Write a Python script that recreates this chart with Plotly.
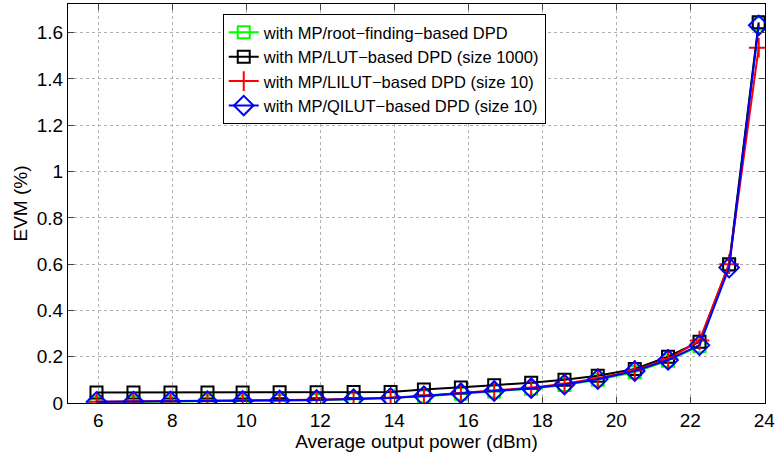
import plotly.graph_objects as go

power_dbm = [5.95, 6.95, 7.95, 8.95, 9.9, 10.9, 11.9, 12.9, 13.9, 14.8, 15.8, 16.7,
             17.7, 18.6, 19.5, 20.5, 21.4, 22.25, 23.05, 23.85]
evm_root = [0.003, 0.004, 0.005, 0.006, 0.007, 0.009, 0.012, 0.016, 0.021, 0.028, 0.040,
            0.050, 0.062, 0.078, 0.100, 0.133, 0.183, 0.245, 0.595, 1.640]
evm_lut = [0.045, 0.045, 0.045, 0.045, 0.045, 0.046, 0.046, 0.047, 0.048, 0.058, 0.067,
           0.077, 0.088, 0.100, 0.118, 0.147, 0.200, 0.265, 0.600, 1.645]
evm_lilut = [0.005, 0.006, 0.007, 0.008, 0.009, 0.011, 0.014, 0.018, 0.023, 0.031, 0.043,
             0.053, 0.066, 0.083, 0.107, 0.142, 0.190, 0.270, 0.600, 1.535]
evm_qilut = [0.005, 0.006, 0.007, 0.008, 0.009, 0.011, 0.013, 0.017, 0.022, 0.030, 0.042,
             0.052, 0.064, 0.080, 0.103, 0.138, 0.186, 0.250, 0.585, 1.632]

names = ["with MP/root\u2212finding\u2212based DPD",
         "with MP/LUT\u2212based DPD (size 1000)",
         "with MP/LILUT\u2212based DPD (size 10)",
         "with MP/QILUT\u2212based DPD (size 10)"]
x_ticks = [6, 8, 10, 12, 14, 16, 18, 20, 22, 24]
y_ticks = [0, 0.2, 0.4, 0.6, 0.8, 1, 1.2, 1.4, 1.6]
y_tick_text = ["0", "0.2", "0.4", "0.6", "0.8", "1", "1.2", "1.4", "1.6"]

series = [
    (evm_root, "#00ff00", "square-open", 12),
    (evm_lut, "#000000", "square-open", 12),
    (evm_lilut, "#ff0000", "cross-thin-open", 14),
    (evm_qilut, "#0000ff", "diamond-open", 15),
]

fig = go.Figure()
for (vals, color, sym, size), name in zip(series, names):
    fig.add_trace(go.Scatter(
        x=power_dbm, y=vals, name=name, mode="lines+markers",
        line=dict(color=color, width=2),
        marker=dict(symbol=sym, size=size, color=color, line=dict(color=color, width=2)),
    ))

font = "Liberation Sans, Arial, sans-serif"
fig.update_layout(
    width=778, height=454,
    margin=dict(l=68, r=8, t=3, b=51),
    paper_bgcolor="white", plot_bgcolor="white",
    font=dict(family=font, size=19, color="black"),
    showlegend=True,
    legend=dict(x=0.222, y=0.975, xanchor="left", yanchor="top",
                bgcolor="white", bordercolor="black", borderwidth=1,
                font=dict(size=16.5), tracegroupgap=0, itemwidth=30),
    xaxis=dict(range=[5.18, 24.02], tickvals=x_ticks, ticks="inside", ticklen=6,
               showline=True, linecolor="black", linewidth=1, mirror="ticks",
               showgrid=True, gridcolor="#b0b0b0", griddash="dot", gridwidth=1,
               zeroline=False, tickfont=dict(size=19), ticklabeloverflow="allow",
               title=dict(text="Average output power (dBm)", standoff=0, font=dict(size=19))),
    yaxis=dict(range=[0, 1.724], tickvals=y_ticks, ticktext=y_tick_text,
               ticks="inside", ticklen=6,
               showline=True, linecolor="black", linewidth=1, mirror="ticks",
               showgrid=True, gridcolor="#b0b0b0", griddash="dot", gridwidth=1,
               zeroline=False, tickfont=dict(size=19), ticklabeloverflow="allow",
               title=dict(text="EVM (%)", standoff=4, font=dict(size=19))),
)

fig.write_html("out.html", config={"displayModeBar": False},
               post_script="document.body.style.margin='0';")
